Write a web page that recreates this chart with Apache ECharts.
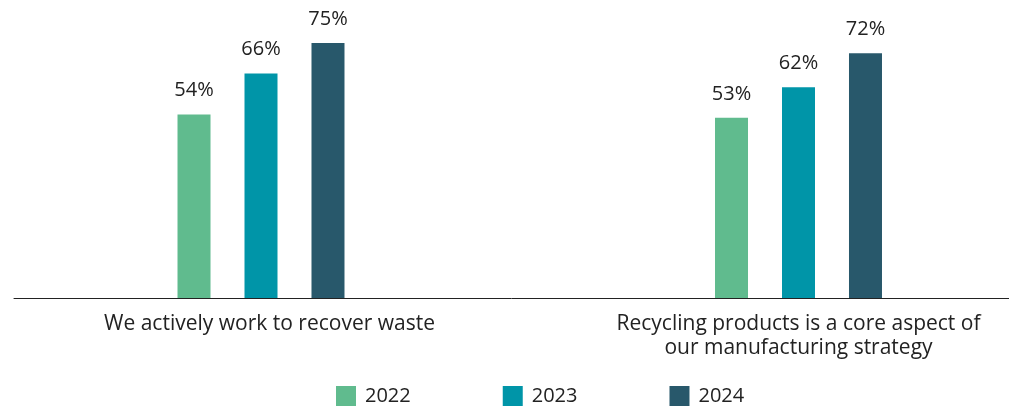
<!DOCTYPE html>
<html><head><meta charset="utf-8">
<script src="https://cdn.jsdelivr.net/npm/echarts@6/dist/echarts.min.js"></script>
<style>html,body{margin:0;padding:0;background:#fff}#c{width:1009px;height:411px}</style>
</head><body><div id="c"></div>
<script>
var categories = ["We actively work to recover waste", "Recycling products is a core aspect of\nour manufacturing strategy"];
var years = ["2022", "2023", "2024"];
var v2022 = [54, 53];
var v2023 = [66, 62];
var v2024 = [75, 72];
var colors = ["#60bb8e", "#0095a8", "#28586b"];
var seriesValues = [v2022, v2023, v2024];

var FONT = "'Open Sans', sans-serif";
var chart = echarts.init(document.getElementById('c'));
var grids = [
  {left: 14, width: 494, top: 26, bottom: 113},
  {left: 588, width: 421, top: 26, bottom: 113},
  {left: 14, right: 0, top: 26, bottom: 113}
];
var labelPads = [[0, 0, 0, 17], [0, 0, 0, 0]];
var xAxes = [], yAxes = [], series = [];
for (var g = 0; g < 2; g++) {
  xAxes.push({
    type: 'category', gridIndex: g, data: [categories[g]],
    axisLine: {show: false},
    axisTick: {show: false},
    axisLabel: {color: '#222', fontFamily: FONT, fontSize: 21, lineHeight: 24, margin: 14, interval: 0, padding: labelPads[g]}
  });
  yAxes.push({type: 'value', gridIndex: g, min: 0, max: 80, show: false, splitLine: {show: false}});
  for (var s = 0; s < 3; s++) {
    series.push({
      name: years[s], type: 'bar', xAxisIndex: g, yAxisIndex: g,
      data: [seriesValues[s][g]], barWidth: 33, barGap: '103%',
      itemStyle: {color: colors[s]},
      label: {show: true, position: 'top', distance: 14, formatter: '{c}%', color: '#222', fontFamily: FONT, fontSize: 20}
    });
  }
}
// baseline axis spanning the full plot width
xAxes.push({type: 'category', gridIndex: 2, data: [''], axisLine: {lineStyle: {color: '#222', width: 1}}, axisTick: {show: false}, axisLabel: {show: false}});
yAxes.push({type: 'value', gridIndex: 2, min: 0, max: 80, show: false, splitLine: {show: false}});
chart.setOption({
  animation: false,
  grid: grids, xAxis: xAxes, yAxis: yAxes, series: series,
  legend: {
    data: years, bottom: 0, left: 331, itemWidth: 20, itemHeight: 20, itemGap: 92,
    icon: 'rect',
    textStyle: {color: '#222', fontFamily: FONT, fontSize: 20, padding: [0, 0, 0, 4]}
  }
});
</script></body></html>
